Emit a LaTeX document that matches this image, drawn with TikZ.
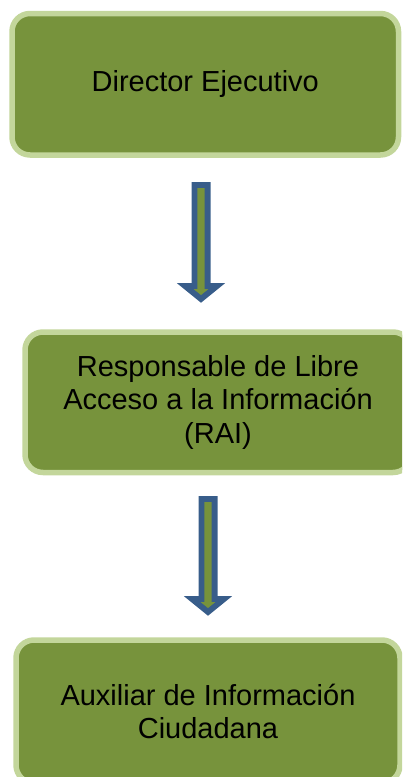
\documentclass[tikz,border=0pt]{standalone}
\usepackage{fontspec}
\setmainfont{Liberation Sans}
\usepackage{xcolor}
\usepackage{tikz}
\usetikzlibrary{calc}

\definecolor{verdecaja}{HTML}{77933C}
\definecolor{bordecaja}{HTML}{C3D69B}
\definecolor{azulflecha}{HTML}{385D8A}

\tikzset{
	cargo/.style={draw=bordecaja,line width=5.5pt,fill=verdecaja,rounded corners=18pt,
		outer sep=0pt,inner sep=0pt,align=center,text=black,
		font=\fontsize{29}{33.5}\selectfont},
	flecha/.style={draw=azulflecha,line width=5.8pt,fill=verdecaja,line join=miter}
}

\newcommand{\flecha}[2]{%
	\draw[flecha] ($(#1)+(-\sa,0)$) -- ($(#2)+(-\sa,-\lp)$) -- ($(#2)+(-\ap,-\lp)$) -- (#2)
		-- ($(#2)+(\ap,-\lp)$) -- ($(#2)+(\sa,-\lp)$) -- ($(#1)+(\sa,0)$) -- cycle;}

\begin{document}
\begin{tikzpicture}[x=1pt,y=-1pt]
		\def\sa{6.6}
		\def\ap{16}
		\def\lp{13}
		\useasboundingbox (0,0) rectangle (402,777);
		\clip (0,0) rectangle (402,777);
		\node[cargo,minimum width=386.5pt,minimum height=141.5pt] (dir) at (205.25,84.25)
			{Director Ejecutivo};
		\node[cargo,minimum width=386pt,minimum height=140.5pt] (rai) at (218,402.25)
			{Responsable de Libre\\Acceso a la Información\\(RAI)};
		\node[cargo,minimum width=384pt,minimum height=143pt] (aux) at (208,711.5)
			{Auxiliar de Información\\Ciudadana};
		\coordinate (f1a) at ($(dir.south)+(-4.25,30)$);
		\coordinate (f1b) at ($(rai.north)+(-17,-33)$);
		\coordinate (f2a) at ($(rai.south)+(-10,26.5)$);
		\coordinate (f2b) at ($(aux.north)+(0,-28)$);
		\flecha{f1a}{f1b}
		\flecha{f2a}{f2b}
	\end{tikzpicture}
\end{document}
